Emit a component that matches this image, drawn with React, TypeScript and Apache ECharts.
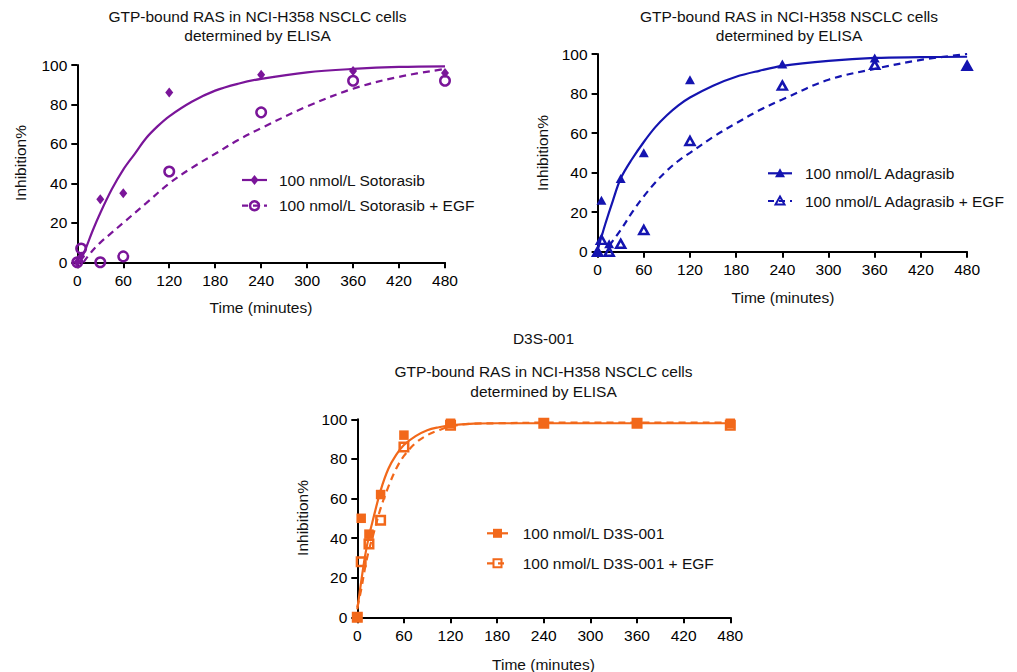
import React, { useEffect, useRef } from "react";
import * as echarts from "echarts";

// ---------- Data ----------
// Panel 1 — Sotorasib
const sotoTimes = [0, 5, 30, 60, 120, 240, 360, 480];
const sotoVals = [0, 3, 32, 35, 86, 95, 97, 96];
const sotoEgfVals = [0, 7, 0, 3, 46, 76, 92, 92];
const sotoFitT = [3, 10, 20, 30, 45, 60, 75, 90, 105, 120, 150, 180, 210, 240, 300, 360, 420, 480];
const sotoFitV = [0, 6, 16, 25, 37, 47, 55, 63, 69, 74, 81.5, 87, 90.5, 93, 96.3, 98, 99, 99.3];
const sotoEgfFitT = [8, 20, 30, 45, 60, 90, 120, 150, 180, 210, 240, 300, 360, 420, 480];
const sotoEgfFitV = [0, 6, 10, 15, 20, 30, 40, 48, 55, 62, 68, 79, 88, 94, 98];

// Panel 2 — Adagrasib
const adaTimes = [0, 5, 15, 30, 60, 120, 240, 360, 480];
const adaVals = [0, 26, 4, 37, 50, 87, 95, 98, 94];
const adaEgfVals = [0, 6, 0, 4, 11, 56, 84, 94.5, 94];
const adaFitT = [1, 10, 20, 30, 45, 60, 75, 90, 105, 120, 150, 180, 210, 240, 300, 360, 420, 480];
const adaFitV = [2, 14, 26, 37, 47, 55.5, 63, 69, 74, 78, 84, 88.5, 91.5, 94, 96.5, 98, 98.4, 98.6];
const adaEgfFitT = [15, 30, 45, 60, 75, 90, 105, 120, 150, 180, 210, 240, 300, 360, 420, 480];
const adaEgfFitV = [3, 11, 20, 28, 35, 41, 46, 50, 58, 65, 71.5, 77, 87, 92.5, 97, 100];

// Panel 3 — D3S-001
const d3sTimes = [0, 5, 15, 30, 60, 120, 240, 360, 480];
const d3sVals = [0, 50, 42, 62, 92, 98, 98, 98, 98];
const d3sEgfVals = [0, 28, 37, 49, 86, 97, 98, 98, 97];
const d3sFitT = [0, 5, 10, 15, 20, 30, 40, 50, 60, 75, 90, 105, 120, 150, 180, 240, 360, 480];
const d3sFitV = [4, 18, 31, 41, 49, 64, 75, 82, 87, 91.5, 94.5, 96, 97, 97.8, 98, 98, 98, 98];
const d3sEgfFitT = [0, 5, 10, 15, 20, 30, 40, 50, 60, 75, 90, 105, 120, 150, 180, 240, 360, 480];
const d3sEgfFitV = [5, 14, 25, 34, 41, 55, 66, 75, 81.5, 88, 92, 94.5, 96.5, 97.8, 98, 98.3, 98.3, 98.3];

// Labels
const titleLine1 = "GTP-bound RAS in NCI-H358 NSCLC cells";
const titleLine2 = "determined by ELISA";
const panel3Header = "D3S-001";
const yName = "Inhibition%";
const xName = "Time (minutes)";
const legend1 = ["100 nmol/L Sotorasib", "100 nmol/L Sotorasib + EGF"];
const legend2 = ["100 nmol/L Adagrasib", "100 nmol/L Adagrasib + EGF"];
const legend3 = ["100 nmol/L D3S-001", "100 nmol/L D3S-001 + EGF"];

const PURPLE = "#7A1599";
const BLUE = "#1414B0";
const ORANGE = "#F2681A";
const FONT = "'Liberation Sans', Arial, Helvetica, sans-serif";
const FS = 15.5;

const zip = (a: number[], b: number[]) => a.map((t, i) => [t, b[i]]);

export default function App() {
  const ref = useRef<HTMLDivElement>(null);
  useEffect(() => {
    if (!ref.current) return;
    const chart = echarts.init(ref.current, undefined, { renderer: "svg" });

    const grids = [
      { left: 77.3, top: 65, width: 367.7, height: 197.3 },
      { left: 597.6, top: 54, width: 369.5, height: 197.7 },
      { left: 357.3, top: 419.3, width: 373, height: 198 },
    ];

    const axisCommon = {
      axisLine: { show: true, onZero: false, lineStyle: { color: "#000", width: 2 } },
      axisTick: { show: true, length: 6, lineStyle: { color: "#000", width: 2 } },
      splitLine: { show: false },
    };
    const xAxes = grids.map((_, i) => ({
      type: "value",
      gridIndex: i,
      min: 0,
      max: 480,
      interval: 60,
      ...axisCommon,
      axisLabel: { color: "#000", fontSize: FS, fontFamily: FONT, margin: 10 },
    }));
    const yAxes = grids.map((_, i) => ({
      type: "value",
      gridIndex: i,
      min: 0,
      max: 100,
      interval: 20,
      ...axisCommon,
      axisLabel: { color: "#000", fontSize: FS, fontFamily: FONT, margin: 10 },
    }));

    const fit = (i: number, t: number[], v: number[], color: string, dashed: boolean) => ({
      type: "line",
      xAxisIndex: i,
      yAxisIndex: i,
      data: zip(t, v),
      smooth: 0.35,
      symbol: "none",
      lineStyle: { color, width: 2.2, type: dashed ? [7, 5] : "solid" },
      z: 2,
    });
    const pts = (
      i: number,
      t: number[],
      v: number[],
      color: string,
      symbol: string,
      size: number | number[],
      open: boolean
    ) => ({
      type: "scatter",
      xAxisIndex: i,
      yAxisIndex: i,
      data: zip(t, v),
      symbol,
      symbolSize: size,
      clip: false,
      itemStyle: open
        ? { color: "rgba(255,255,255,0)", borderColor: color, borderWidth: 2.5, opacity: 1 }
        : { color, borderColor: color, borderWidth: 0, opacity: 1 },
      z: 3,
    });

    const series = [
      fit(0, sotoFitT, sotoFitV, PURPLE, false),
      fit(0, sotoEgfFitT, sotoEgfFitV, PURPLE, true),
      pts(0, sotoTimes, sotoEgfVals, PURPLE, "circle", 9.5, true),
      pts(0, sotoTimes, sotoVals, PURPLE, "diamond", [8, 10], false),
      fit(1, adaFitT, adaFitV, BLUE, false),
      fit(1, adaEgfFitT, adaEgfFitV, BLUE, true),
      pts(1, adaTimes, adaEgfVals, BLUE, "triangle", [9, 8], true),
      pts(1, adaTimes, adaVals, BLUE, "triangle", [10, 9], false),
      fit(2, d3sFitT, d3sFitV, ORANGE, false),
      fit(2, d3sEgfFitT, d3sEgfFitV, ORANGE, true),
      pts(2, d3sTimes, d3sEgfVals, ORANGE, "rect", 8.5, true),
      pts(2, d3sTimes, d3sVals, ORANGE, "rect", 9.5, false),
    ];

    const txt = (x: number, y: number, text: string, extra: any = {}) => ({
      type: "text",
      x,
      y,
      style: {
        text,
        fill: "#111",
        fontSize: FS,
        fontFamily: FONT,
        align: "center",
        verticalAlign: "middle",
        ...extra,
      },
    });
    const rotTxt = (x: number, y: number, text: string) => ({
      type: "text",
      x,
      y,
      rotation: Math.PI / 2,
      style: {
        text,
        fill: "#111",
        fontSize: FS,
        fontFamily: FONT,
        align: "center",
        verticalAlign: "middle",
      },
    });

    const marker = (kind: string, cx: number, cy: number, color: string) => {
      if (kind === "diamond")
        return {
          type: "polygon",
          shape: { points: [[cx, cy - 5], [cx + 4, cy], [cx, cy + 5], [cx - 4, cy]] },
          style: { fill: color },
        };
      if (kind === "ring")
        return {
          type: "circle",
          shape: { cx, cy, r: 4.5 },
          style: { fill: "none", stroke: color, lineWidth: 2.5 },
        };
      if (kind === "tri")
        return {
          type: "polygon",
          shape: { points: [[cx, cy - 5], [cx + 5, cy + 4], [cx - 5, cy + 4]] },
          style: { fill: color },
        };
      if (kind === "triOpen")
        return {
          type: "polygon",
          shape: { points: [[cx, cy - 4.5], [cx + 4.5, cy + 3.5], [cx - 4.5, cy + 3.5]] },
          style: { fill: "none", stroke: color, lineWidth: 2 },
        };
      if (kind === "sq")
        return {
          type: "rect",
          shape: { x: cx - 4.5, y: cy - 4.5, width: 9, height: 9 },
          style: { fill: color },
        };
      return {
        type: "rect",
        shape: { x: cx - 4, y: cy - 4, width: 8, height: 8 },
        style: { fill: "none", stroke: color, lineWidth: 2 },
      };
    };

    const legendItem = (
      x1: number,
      x2: number,
      y: number,
      tx: number,
      label: string,
      color: string,
      dashed: boolean,
      kind: string
    ) => [
      {
        type: "line",
        shape: { x1, y1: y, x2, y2: y },
        style: { stroke: color, lineWidth: 2.2, lineDash: dashed ? [6, 5] : null },
      },
      marker(kind, (x1 + x2) / 2, y, color),
      txt(tx, y, label, { align: "left" }),
    ];

    const graphic = [
      txt(257.5, 16.5, titleLine1),
      txt(257.5, 35.5, titleLine2),
      txt(789, 16.5, titleLine1),
      txt(789, 35.5, titleLine2),
      txt(543.5, 338.5, panel3Header),
      txt(543.5, 371.5, titleLine1),
      txt(543.5, 391, titleLine2),
      rotTxt(20, 163, yName),
      rotTxt(542, 153, yName),
      rotTxt(302.5, 518, yName),
      txt(261, 307, xName),
      txt(783, 297, xName),
      txt(543.5, 664, xName),
      ...legendItem(242, 267, 180, 279, legend1[0], PURPLE, false, "diamond"),
      ...legendItem(242, 267, 205.7, 279, legend1[1], PURPLE, true, "ring"),
      ...legendItem(768, 792, 173.3, 805, legend2[0], BLUE, false, "tri"),
      ...legendItem(768, 792, 201, 805, legend2[1], BLUE, true, "triOpen"),
      ...legendItem(487, 508, 533.3, 522.7, legend3[0], ORANGE, false, "sq"),
      ...legendItem(487, 508, 563.3, 522.7, legend3[1], ORANGE, true, "sqOpen"),
    ];

    chart.setOption({
      animation: false,
      backgroundColor: "#fff",
      grid: grids,
      xAxis: xAxes,
      yAxis: yAxes,
      series,
      graphic,
    });
    return () => chart.dispose();
  }, []);

  return (
    <div
      ref={ref}
      style={{ position: "fixed", left: 0, top: 0, width: 1017, height: 672, background: "#fff" }}
    />
  );
}
